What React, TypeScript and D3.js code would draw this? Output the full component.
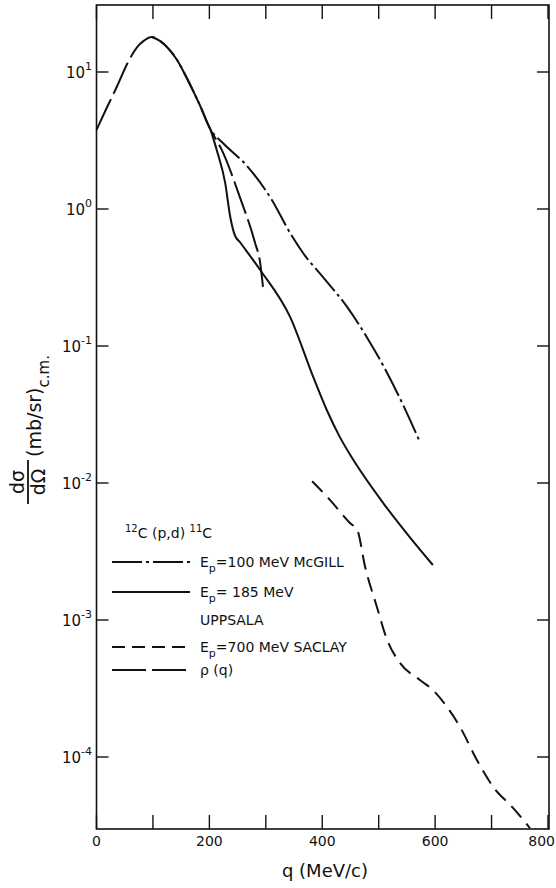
import React from "react";
import * as d3 from "d3";

// ---------- data ----------
const rhoQ = [0, 18, 36, 54, 72, 83, 98, 113, 125, 143, 160, 183, 202, 222, 254, 281, 290, 295];
const rhoV = [3.78, 5.46, 7.8, 11.4, 15.2, 16.8, 18.0, 16.8, 15.2, 12.2, 9.04, 5.74, 3.8, 2.7, 1.22, 0.565, 0.404, 0.27];

const mcgillQ = [98, 113, 125, 143, 160, 183, 202, 224, 268, 311, 343, 366, 401, 444, 479, 515, 550, 573];
const mcgillV = [18.0, 16.8, 15.2, 12.2, 9.04, 5.74, 3.8, 3.03, 2.03, 1.16, 0.668, 0.477, 0.319, 0.193, 0.116, 0.0636, 0.0324, 0.0199];

const uppsalaQ = [202, 213, 228, 237, 245, 254, 290, 343, 384, 408, 431, 453, 508, 555, 596];
const uppsalaV = [3.8, 2.7, 1.55, 0.875, 0.645, 0.574, 0.359, 0.163, 0.0594, 0.0341, 0.0217, 0.0152, 0.00714, 0.00403, 0.00252];

const saclayQ = [382, 414, 449, 462, 476, 497, 515, 538, 573, 596, 621, 644, 674, 703, 738, 768];
const saclayV = [0.0103, 0.0075, 0.0051, 0.00454, 0.00244, 0.00124, 0.000715, 0.000485, 0.000365, 0.000308, 0.000232, 0.000166, 0.0000951, 0.0000604, 0.0000425, 0.0000303];

const xTicks = [0, 100, 200, 300, 400, 500, 600, 700, 800];
const xTickLabels = ["0", "", "200", "", "400", "", "600", "", "800"];
const yExps = [1, 0, -1, -2, -3, -4];

const FONT = "'DejaVu Sans', sans-serif";

export default function App() {
  const left = 96.5, right = 549, top = 5, bottom = 829;
  const x = d3.scaleLinear().domain([0, 800]).range([left, 548]);
  const y = d3.scaleLog().domain([1e-4, 10]).range([757, 72]);

  const line = d3
    .line<[number, number]>()
    .x((d) => x(d[0]))
    .y((d) => y(d[1]))
    .curve(d3.curveMonotoneX);
  const zip = (a: number[], b: number[]) => a.map((q, i) => [q, b[i]] as [number, number]);

  const curveStyle = { fill: "none", stroke: "#111", strokeWidth: 2, strokeLinecap: "butt" as const };
  const dashRho = "34 6";
  const dashMc = "30 4 3 4";
  const dashSac = "15 8";

  const legendX1 = 112, legendX2 = 190, textX = 200;
  const legendRows = [
    { y: 562, dash: dashMc, label: "=100 MeV McGILL", sub: true },
    { y: 592, dash: null, label: "= 185 MeV", sub: true },
    { y: 647, dash: "13 7", label: "=700 MeV  SACLAY", sub: true },
    { y: 670, dash: dashRho, label: "", sub: false },
  ];

  return (
    <svg
      width={556}
      height={888}
      style={{ position: "absolute", left: 0, top: 0, background: "#fff" }}
      fontFamily={FONT}
    >
      <rect x={0} y={0} width={556} height={888} fill="#fff" />
      {/* frame */}
      <rect x={left} y={top} width={right - left} height={bottom - top} fill="none" stroke="#111" strokeWidth={1.6} />
      {/* x ticks bottom & top */}
      {xTicks.map((t, i) => (
        <g key={"xt" + i}>
          <line x1={x(t)} x2={x(t)} y1={bottom} y2={bottom - 14} stroke="#111" strokeWidth={1.4} />
          <line x1={x(t)} x2={x(t)} y1={top} y2={top + 14} stroke="#111" strokeWidth={1.4} />
          {xTickLabels[i] && (
            <text
              x={t === 800 ? 555 : x(t)}
              y={846}
              fontSize={14}
              textAnchor={t === 800 ? "end" : "middle"}
              fill="#111"
            >
              {xTickLabels[i]}
            </text>
          )}
        </g>
      ))}
      {/* y ticks */}
      {yExps.map((e) => {
        const yy = y(Math.pow(10, e));
        return (
          <g key={"yt" + e}>
            <line x1={left} x2={left + 12} y1={yy} y2={yy} stroke="#111" strokeWidth={1.4} />
            <line x1={right - 12} x2={right} y1={yy} y2={yy} stroke="#111" strokeWidth={1.4} />
            <text x={92} y={yy + 6} fontSize={15} textAnchor="end" fill="#111">
              10
              <tspan dy={-8} fontSize={11}>
                {e < 0 ? "-" + Math.abs(e) : String(e)}
              </tspan>
            </text>
          </g>
        );
      })}
      {/* x axis label */}
      <text x={325} y={877} fontSize={18} textAnchor="middle" fill="#111">
        q (MeV/c)
      </text>
      {/* y axis label */}
      <g>
        <text transform="translate(24,482) rotate(-90)" fontSize={19} textAnchor="middle" fill="#111">
          dσ
        </text>
        <line x1={28} x2={28} y1={460} y2={504} stroke="#111" strokeWidth={1.8} />
        <text transform="translate(45,482) rotate(-90)" fontSize={19} textAnchor="middle" fill="#111">
          dΩ
        </text>
        <text transform="translate(41,457) rotate(-90)" fontSize={19} fill="#111">
          (mb/sr)
          <tspan dy={8} fontSize={15}>c.m.</tspan>
        </text>
      </g>

      {/* curves */}
      <path d={line(zip(rhoQ, rhoV)) || ""} {...curveStyle} strokeDasharray={dashRho} />
      <path d={line(zip(mcgillQ, mcgillV)) || ""} {...curveStyle} strokeDasharray={dashMc} />
      <path d={line(zip(uppsalaQ, uppsalaV)) || ""} {...curveStyle} />
      <path d={line(zip(saclayQ, saclayV)) || ""} {...curveStyle} strokeDasharray={dashSac} />

      {/* legend */}
      <text x={125} y={538} fontSize={14} fill="#111">
        <tspan dy={-6} fontSize={10}>12</tspan>
        <tspan dy={6}>C (p,d) </tspan>
        <tspan dy={-6} fontSize={10}>11</tspan>
        <tspan dy={6}>C</tspan>
      </text>
      {legendRows.map((r, i) => (
        <g key={"lg" + i}>
          <line
            x1={legendX1}
            x2={legendX2}
            y1={r.y}
            y2={r.y}
            stroke="#111"
            strokeWidth={2}
            strokeDasharray={r.dash || undefined}
          />
          {r.sub ? (
            <text x={textX} y={r.y + 5} fontSize={14} fill="#111">
              E<tspan dy={5} fontSize={11}>p</tspan>
              <tspan dy={-5}>{r.label}</tspan>
            </text>
          ) : (
            <text x={textX} y={r.y + 5} fontSize={14} fill="#111">
              ρ  (q)
            </text>
          )}
        </g>
      ))}
      <text x={textX} y={625} fontSize={14} fill="#111">
        UPPSALA
      </text>
    </svg>
  );
}
